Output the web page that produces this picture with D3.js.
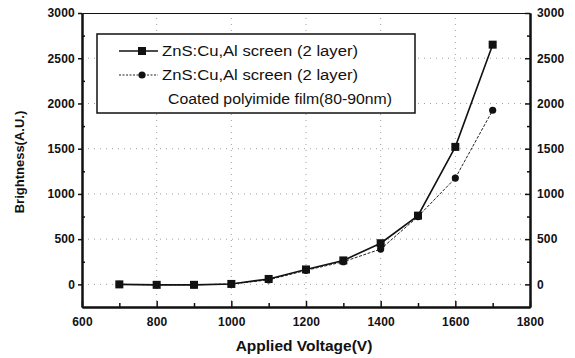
<!DOCTYPE html>
<html>
<head>
<meta charset="utf-8">
<script src="https://cdn.jsdelivr.net/npm/d3@7"></script>
<style>
  body { margin: 0; background: #fff; }
  svg { display: block; font-family: Arial, "Liberation Sans", sans-serif; }
  .tick-label { font-size: 12px; font-weight: bold; fill: #111; letter-spacing: 0.2px; }
  .axis-title { font-size: 15.5px; font-weight: bold; fill: #111; }
  .legend-text { font-size: 14px; fill: #111; }
</style>
</head>
<body>
<div id="chart"></div>
<script>
var voltage = [700, 800, 900, 1000, 1100, 1200, 1300, 1400, 1500, 1600, 1700];
var screenTwoLayer = [0, -5, -5, 5, 60, 165, 265, 455, 760, 1520, 2650];
var coatedFilm = [0, -5, -5, 5, 50, 155, 250, 390, 750, 1175, 1925];
var xTicks = [600, 800, 1000, 1200, 1400, 1600, 1800];
var yTicks = [0, 500, 1000, 1500, 2000, 2500, 3000];
var legendLabels = ["ZnS:Cu,Al screen (2 layer)", "ZnS:Cu,Al screen (2 layer)", "Coated polyimide film(80-90nm)"];

var width = 575, height = 358;
var margin = { top: 13, right: 45, bottom: 51, left: 82 };
var fmt = d3.format("d");

var svg = d3.select("#chart").append("svg")
  .attr("width", width)
  .attr("height", height);

var x = d3.scaleLinear().domain([600, 1800]).range([margin.left, width - margin.right]);
var y = d3.scaleLinear().domain([-250, 3000]).range([height - margin.bottom, margin.top]);

// dotted grid
var grid = svg.append("g").attr("stroke", "#888").attr("stroke-width", 0.8).attr("stroke-dasharray", "1,5");
grid.selectAll(".gy").data(yTicks.filter(function(d){ return d < 3000; })).enter().append("line")
  .attr("x1", x(600)).attr("x2", x(1800))
  .attr("y1", function(d){ return y(d); }).attr("y2", function(d){ return y(d); });
grid.selectAll(".gx").data(xTicks.filter(function(d){ return d > 600 && d < 1800; })).enter().append("line")
  .attr("y1", y(-250)).attr("y2", y(3000))
  .attr("x1", function(d){ return x(d); }).attr("x2", function(d){ return x(d); });

// axes
var bottomAxis = svg.append("g")
  .attr("transform", "translate(0," + y(-250) + ")")
  .call(d3.axisBottom(x).tickValues(xTicks).tickFormat(fmt).tickSizeInner(-6).tickSizeOuter(0).tickPadding(10));
var bottomMinor = svg.append("g")
  .attr("transform", "translate(0," + y(-250) + ")")
  .call(d3.axisBottom(x).tickValues(d3.range(700, 1800, 200)).tickSizeInner(-4).tickSizeOuter(0).tickFormat(""));

var leftAxis = svg.append("g")
  .attr("transform", "translate(" + x(600) + ",0)")
  .call(d3.axisLeft(y).tickValues(yTicks).tickFormat(fmt).tickSizeInner(4).tickSizeOuter(0).tickPadding(3));
var leftMinor = svg.append("g")
  .attr("transform", "translate(" + x(600) + ",0)")
  .call(d3.axisLeft(y).tickValues(d3.range(250, 3000, 500)).tickSizeInner(-3).tickSizeOuter(0).tickFormat(""));

var rightAxis = svg.append("g")
  .attr("transform", "translate(" + x(1800) + ",0)")
  .call(d3.axisRight(y).tickValues(yTicks).tickFormat(fmt).tickSizeInner(-5).tickSizeOuter(0).tickPadding(7));
var rightMinor = svg.append("g")
  .attr("transform", "translate(" + x(1800) + ",0)")
  .call(d3.axisRight(y).tickValues(d3.range(250, 3000, 500)).tickSizeInner(-3).tickSizeOuter(0).tickFormat(""));

var topAxis = svg.append("g")
  .attr("transform", "translate(0," + y(3000) + ")")
  .call(d3.axisTop(x).tickValues([]).tickSizeOuter(0));

[bottomAxis, bottomMinor, leftAxis, leftMinor, rightAxis, rightMinor, topAxis].forEach(function(g){
  g.select(".domain").attr("stroke", "#111").attr("stroke-width", 2);
  g.selectAll(".tick line").attr("stroke", "#111").attr("stroke-width", 1.5);
  g.selectAll(".tick text").attr("class", "tick-label").attr("font-size", null).attr("font-family", null);
});
topAxis.select(".domain").attr("stroke-width", 1.2);

// lines
var line = d3.line()
  .x(function(d){ return x(d[0]); })
  .y(function(d){ return y(d[1]); });

var s1 = voltage.map(function(v, i){ return [v, screenTwoLayer[i]]; });
var s2 = voltage.map(function(v, i){ return [v, coatedFilm[i]]; });

svg.append("path").datum(s2)
  .attr("fill", "none").attr("stroke", "#222").attr("stroke-width", 1)
  .attr("stroke-dasharray", "3,1.5")
  .attr("d", line);
svg.selectAll(".c2").data(s2).enter().append("circle")
  .attr("cx", function(d){ return x(d[0]); })
  .attr("cy", function(d){ return y(d[1]); })
  .attr("r", 3.6).attr("fill", "#111");

svg.append("path").datum(s1)
  .attr("fill", "none").attr("stroke", "#111").attr("stroke-width", 1.6)
  .attr("d", line);
svg.selectAll(".s1").data(s1).enter().append("rect")
  .attr("x", function(d){ return x(d[0]) - 4; })
  .attr("y", function(d){ return y(d[1]) - 4; })
  .attr("width", 8).attr("height", 8).attr("fill", "#111");

// legend
var legend = svg.append("g");
legend.append("rect")
  .attr("x", 97).attr("y", 34).attr("width", 318).attr("height", 79)
  .attr("fill", "#fff").attr("stroke", "#111").attr("stroke-width", 1.5);

var rowY = [51, 75, 99];
legend.append("line").attr("x1", 119).attr("x2", 158).attr("y1", rowY[0]).attr("y2", rowY[0])
  .attr("stroke", "#111").attr("stroke-width", 1.6);
legend.append("rect").attr("x", 138).attr("y", rowY[0] - 4).attr("width", 8).attr("height", 8).attr("fill", "#111");
legend.append("line").attr("x1", 119).attr("x2", 158).attr("y1", rowY[1]).attr("y2", rowY[1])
  .attr("stroke", "#222").attr("stroke-width", 1).attr("stroke-dasharray", "2,1.5");
legend.append("circle").attr("cx", 142).attr("cy", rowY[1]).attr("r", 3.6).attr("fill", "#111");

legend.selectAll(".lt").data(legendLabels).enter().append("text")
  .attr("class", "legend-text")
  .attr("x", function(d, i){ return i < 2 ? 162 : 168; })
  .attr("y", function(d, i){ return rowY[i] + 5; })
  .attr("textLength", function(d, i){ return i < 2 ? 196 : 224; })
  .attr("lengthAdjust", "spacingAndGlyphs")
  .text(function(d){ return d; });

// axis titles
svg.append("text")
  .attr("class", "axis-title")
  .attr("text-anchor", "middle")
  .attr("x", 304).attr("y", 351)
  .text("Applied Voltage(V)");

svg.append("text")
  .attr("class", "axis-title")
  .attr("text-anchor", "middle")
  .attr("style", "font-size:13px")
  .attr("transform", "translate(24,162)rotate(-90)")
  .text("Brightness(A.U.)");
</script>
</body>
</html>
